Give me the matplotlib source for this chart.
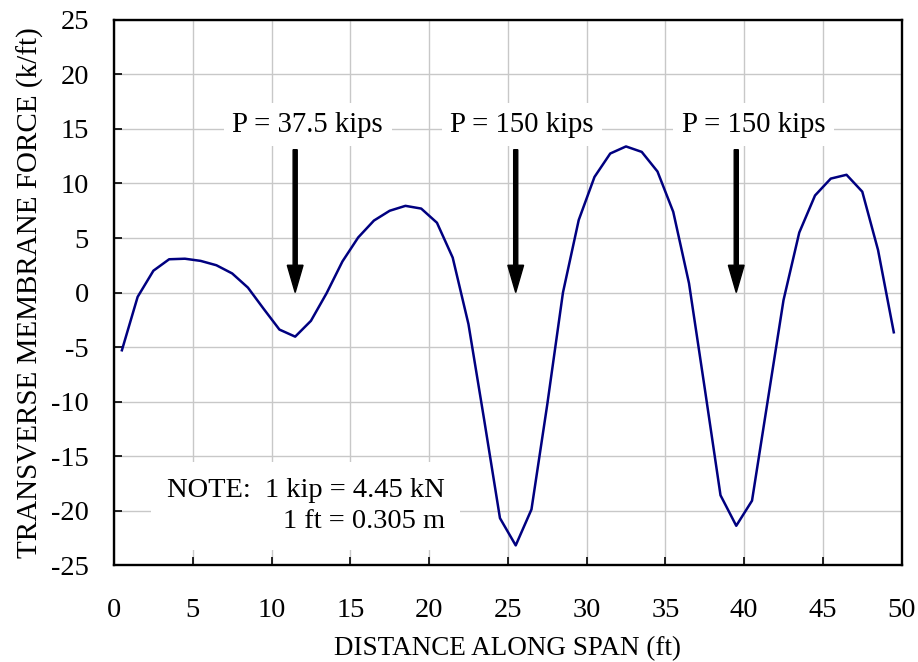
import matplotlib
matplotlib.use("Agg")
import matplotlib.pyplot as plt
import numpy as np

# Data
distance_ft = [0.5 + i for i in range(50)]
membrane_force = [
    -5.3, -0.4, 2.0, 3.05, 3.1, 2.9, 2.5, 1.75, 0.45, -1.5,
    -3.4, -4.05, -2.6, -0.05, 2.85, 5.05, 6.6, 7.5, 7.95, 7.7,
    6.4, 3.2, -2.9, -11.7, -20.7, -23.2, -19.9, -10.3, 0.0, 6.65,
    10.6, 12.75, 13.4, 12.9, 11.1, 7.4, 0.85, -8.8, -18.6, -21.4,
    -19.1, -9.9, -0.7, 5.5, 8.9, 10.45, 10.8, 9.25, 3.9, -3.65,
]
load_positions = [11.5, 25.5, 39.5]
load_labels = ["P = 37.5 kips", "P = 150 kips", "P = 150 kips"]
xticks = list(range(0, 51, 5))
yticks = list(range(-25, 26, 5))

plt.rcParams['font.family'] = ['Liberation Serif', 'DejaVu Serif']
plt.rcParams['axes.unicode_minus'] = False

fig = plt.figure(figsize=(9.18, 6.62), dpi=100)
ax = fig.add_axes([0.1242, 0.1465, 0.9822 - 0.1242, 0.9698 - 0.1465])

ax.set_xlim(0, 50)
ax.set_ylim(-25, 25)
ax.set_xticks(xticks)
ax.set_yticks(yticks)
ax.grid(True, color='#c8c8c8', linewidth=1.0)
ax.set_axisbelow(True)

ax.plot(distance_ft, membrane_force, color='#000080', linewidth=1.8, zorder=3)

for s in ax.spines.values():
    s.set_linewidth(1.7)
    s.set_color('black')

ax.tick_params(axis='both', direction='in', length=6, width=1.2,
               labelsize=20.5, colors='black')
ax.tick_params(axis='x', pad=24)
ax.tick_params(axis='y', pad=18)

ax.set_xlabel("DISTANCE ALONG SPAN (ft)", fontsize=19.5, labelpad=9)
ax.set_ylabel("TRANSVERSE MEMBRANE FORCE (k/ft)", fontsize=21, labelpad=5)

# Load labels and arrows
label_offsets = [0.8, 0.4, 1.1]
for xp, lab, off in zip(load_positions, load_labels, label_offsets):
    ax.text(xp + off, 15.4, lab, fontsize=20.7, ha='center', va='center',
            bbox=dict(boxstyle='square,pad=0.3', facecolor='white', edgecolor='none'),
            zorder=4)
    ax.arrow(xp, 13.1, 0, -13.1, width=0.26, head_width=1.0, head_length=2.5,
             length_includes_head=True, color='black', zorder=4)

ax.text(21.0, -19.6, "NOTE:  1 kip = 4.45 kN\n1 ft = 0.305 m", fontsize=20.5,
        ha='right', va='center', multialignment='right', linespacing=1.35,
        bbox=dict(boxstyle='square,pad=0.55', facecolor='white', edgecolor='none'),
        zorder=4)

fig.savefig("out.png", dpi=100)
